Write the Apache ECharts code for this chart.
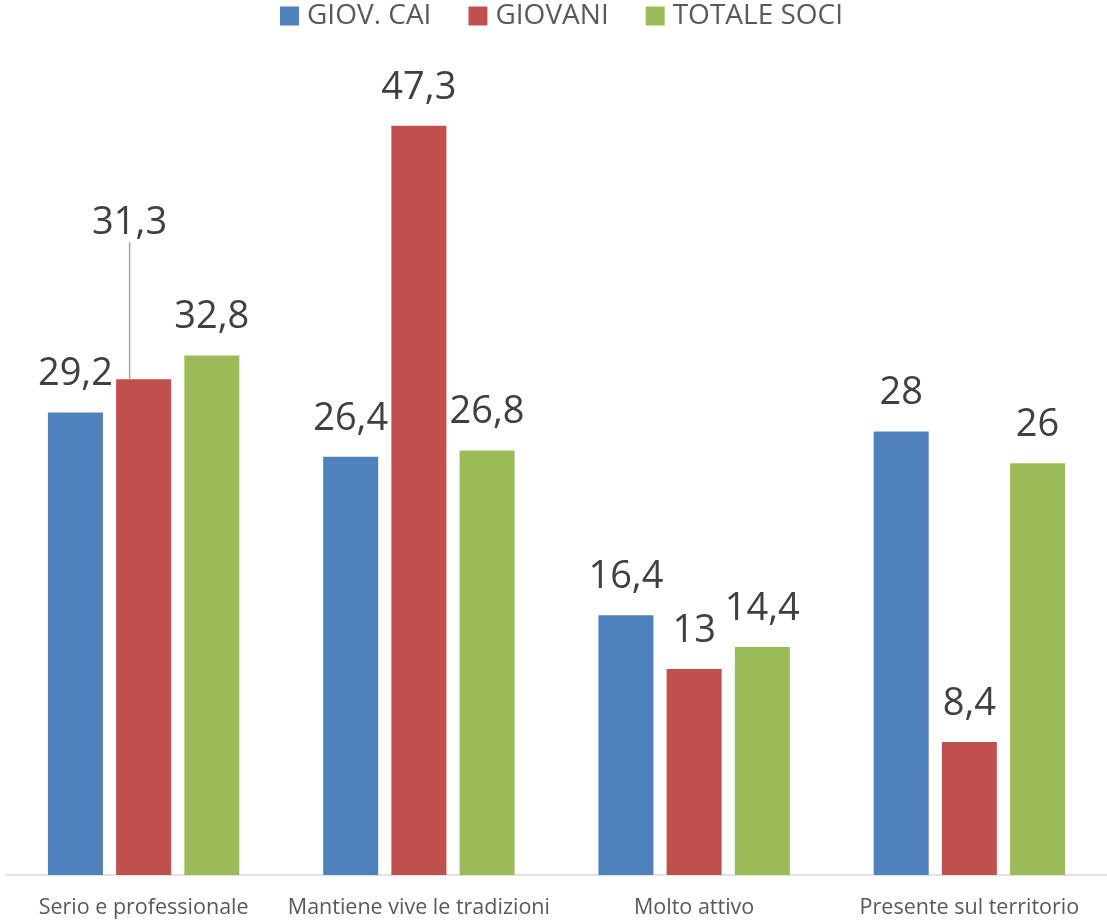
<!DOCTYPE html>
<html>
<head>
<meta charset="utf-8">
<script src="https://cdn.jsdelivr.net/npm/echarts@6/dist/echarts.min.js"></script>
<style>
html,body{margin:0;padding:0;background:#fff;}
#chart{width:1107px;height:920px;}
</style>
</head>
<body>
<div id="chart"></div>
<script>
const categories = ['Serio e professionale', 'Mantiene vive le tradizioni', 'Molto attivo', 'Presente sul territorio'];
const seriesNames = ['GIOV. CAI', 'GIOVANI', 'TOTALE SOCI'];
const giovCai = [29.2, 26.4, 16.4, 28];
const giovani = [31.3, 47.3, 13, 8.4];
const totaleSoci = [32.8, 26.8, 14.4, 26];
const colors = ['#4F81BD', '#C0504D', '#9BBB59'];

const FONT = '"Open Sans", "Noto Sans", sans-serif';
const chart = echarts.init(document.getElementById('chart'));

function fmt(p) { return String(p.value).replace('.', ','); }

function makeSeries(name, data, color, idx) {
  const items = data.map(function (v, i) {
    const item = { value: v };
    if (idx === 1 && i === 0) {
      item.labelLine = { show: true, lineStyle: { color: '#a6a6a6', width: 1.5 } };
    }
    return item;
  });
  const s = {
    name: name,
    type: 'bar',
    data: items,
    barWidth: 55,
    barGap: '24%',
    itemStyle: { color: color },
    label: {
      show: true,
      position: 'top',
      distance: 19,
      formatter: fmt,
      fontFamily: FONT,
      fontSize: 38,
      color: '#404040'
    },
    labelLine: { show: false },
    emphasis: { disabled: true }
  };
  if (idx === 1) {
    s.labelLayout = function (params) {
      if (params.dataIndex === 0) {
        return { dx: -14, dy: -118 };
      }
      return {};
    };
  }
  return s;
}

chart.setOption({
  animation: false,
  color: colors,
  legend: {
    top: -3,
    left: 275,
    itemWidth: 19,
    itemHeight: 19,
    itemGap: 37,
    icon: 'rect',
    textStyle: { fontFamily: FONT, fontSize: 28, color: '#595959', padding: [0, 0, 0, 3] },
    data: seriesNames
  },
  grid: { left: 6, right: 0, top: 83, bottom: 45, containLabel: false },
  xAxis: {
    type: 'category',
    data: categories,
    axisLine: { show: true, lineStyle: { color: '#d9d9d9', width: 1.5 } },
    axisTick: { show: false },
    axisLabel: { fontFamily: FONT, fontSize: 21.5, color: '#595959', margin: 22, interval: 0 }
  },
  yAxis: {
    type: 'value',
    min: 0,
    max: 50,
    show: false,
    splitLine: { show: false }
  },
  series: [
    makeSeries(seriesNames[0], giovCai, colors[0], 0),
    makeSeries(seriesNames[1], giovani, colors[1], 1),
    makeSeries(seriesNames[2], totaleSoci, colors[2], 2)
  ]
});
</script>
</body>
</html>
